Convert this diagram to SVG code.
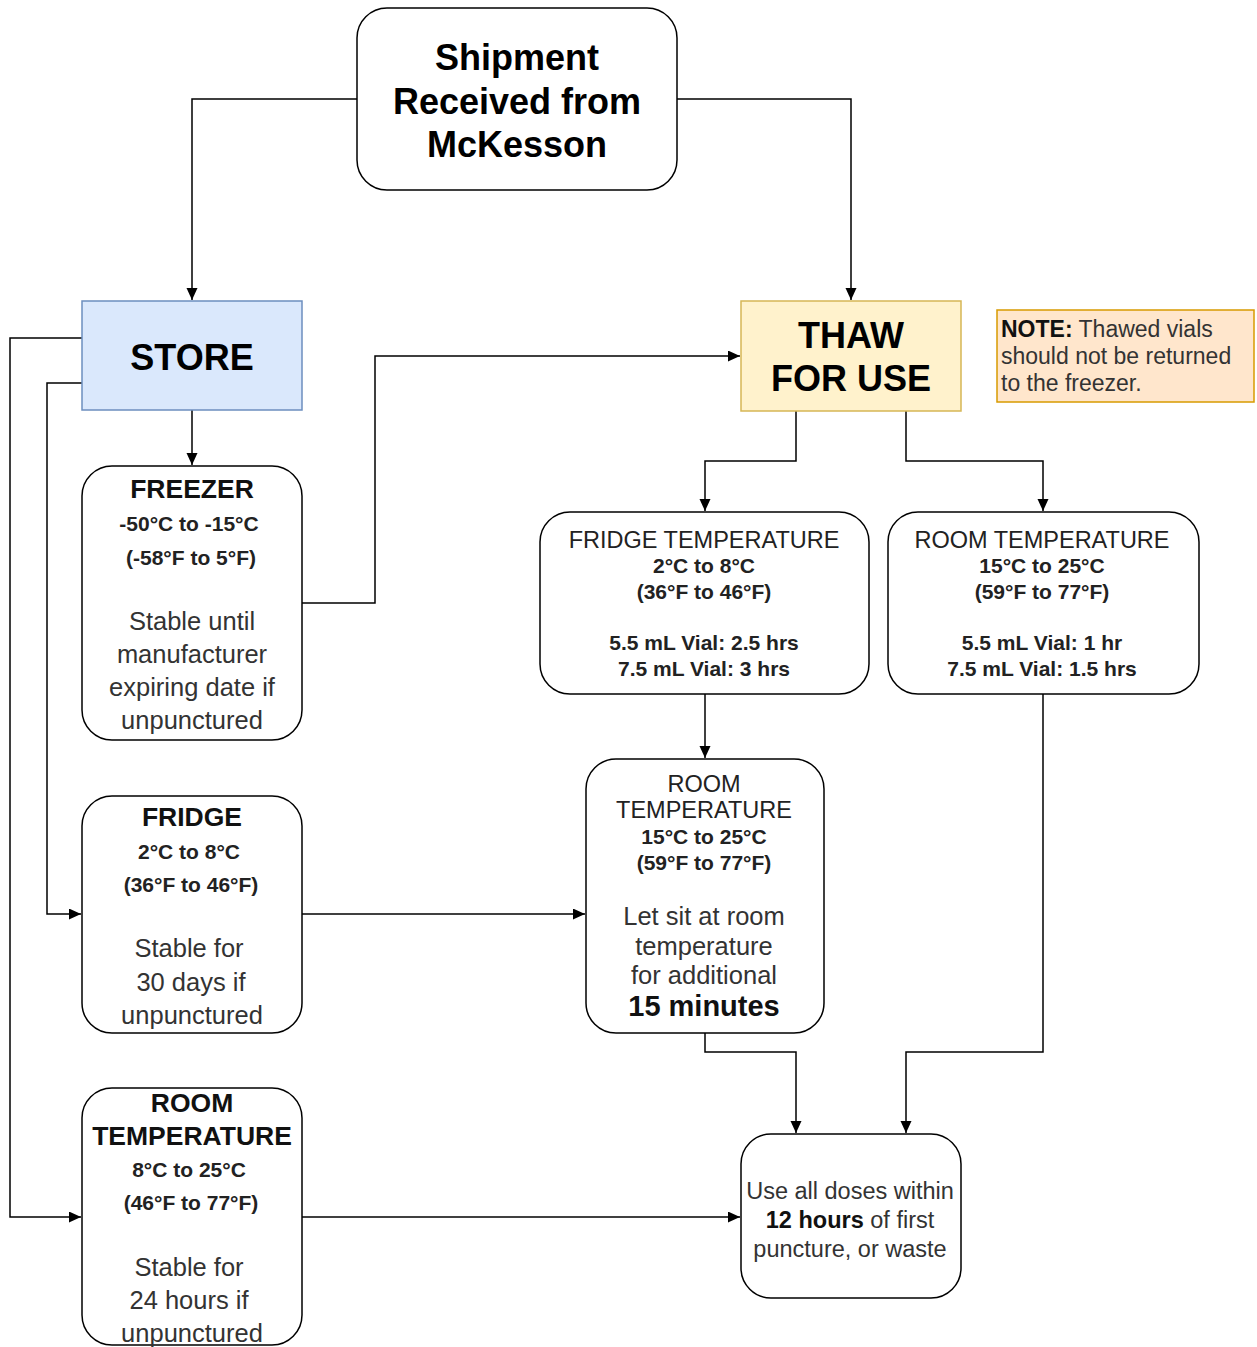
<svg xmlns="http://www.w3.org/2000/svg" width="1257" height="1347" viewBox="0 0 1257 1347">
<defs>
<marker id="arr" markerWidth="14" markerHeight="14" refX="12" refY="5.5" orient="auto" markerUnits="userSpaceOnUse">
<path d="M0,0 L12,5.5 L0,11 Z" fill="#000"/>
</marker>
<style>
text{font-family:"Liberation Sans",Arial,sans-serif;text-anchor:middle}
.box{fill:#fff;stroke:#000;stroke-width:1.5}
.t36{font-size:36px;font-weight:bold;fill:#000}
.hb{font-size:26.5px;font-weight:bold;fill:#111}
.hr{font-size:23.5px;fill:#222}
.tb{font-size:21px;font-weight:bold;fill:#222}
.b25{font-size:25.5px;fill:#333}
.b23{font-size:23.5px;fill:#333}
.edge{fill:none;stroke:#000;stroke-width:1.5;marker-end:url(#arr)}
</style>
</defs>
<rect width="1257" height="1347" fill="#fff"/>
<g id="connectors">
<path class="edge" d="M357,99 H192 V300"/>
<path class="edge" d="M677,99 H851 V300"/>
<path class="edge" d="M192,410 V465"/>
<path class="edge" d="M82,338 H10 V1217 H81"/>
<path class="edge" d="M82,383 H47 V914 H81"/>
<path class="edge" d="M302,603 H375 V356 H740"/>
<path class="edge" d="M796,411 V461 H705 V511"/>
<path class="edge" d="M906,411 V461 H1043 V511"/>
<path class="edge" d="M705,694 V758"/>
<path class="edge" d="M302,914 H585"/>
<path class="edge" d="M705,1033 V1052 H796 V1133"/>
<path class="edge" d="M1043,694 V1052 H906 V1133"/>
<path class="edge" d="M302,1217 H740"/>
</g>
<g id="shipment">
<rect class="box" x="357" y="8" width="320" height="182" rx="30"/>
<text class="t36" x="517" y="70">Shipment</text>
<text class="t36" x="517" y="114">Received from</text>
<text class="t36" x="517" y="157">McKesson</text>
</g>
<g id="store">
<rect x="82" y="301" width="220" height="109" fill="#dae8fc" stroke="#6c8ebf" stroke-width="1.5"/>
<text class="t36" x="192" y="370">STORE</text>
</g>
<g id="thaw">
<rect x="741" y="301" width="220" height="110" fill="#fff2cc" stroke="#d6b656" stroke-width="1.5"/>
<text class="t36" x="851" y="348">THAW</text>
<text class="t36" x="851" y="391">FOR USE</text>
</g>
<g id="note">
<rect x="997" y="310" width="257" height="92" fill="#ffe6cc" stroke="#d79b00" stroke-width="1.5"/>
<text x="1001" y="337" style="text-anchor:start;font-size:23px;fill:#333"><tspan font-weight="bold" fill="#111">NOTE:</tspan> Thawed vials</text>
<text x="1001" y="364" style="text-anchor:start;font-size:23px;fill:#333">should not be returned</text>
<text x="1001" y="391" style="text-anchor:start;font-size:23px;fill:#333">to the freezer.</text>
</g>
<g id="freezer">
<rect class="box" x="82" y="466" width="220" height="274" rx="30"/>
<text class="hb" x="192" y="498">FREEZER</text>
<text class="tb" x="189" y="531">-50°C to -15°C</text>
<text class="tb" x="191" y="565">(-58°F to 5°F)</text>
<text class="b25" x="192" y="630">Stable until</text>
<text class="b25" x="192" y="663">manufacturer</text>
<text class="b25" x="192" y="696">expiring date if</text>
<text class="b25" x="192" y="729">unpunctured</text>
</g>
<g id="fridge">
<rect class="box" x="82" y="796" width="220" height="237" rx="30"/>
<text class="hb" x="192" y="826">FRIDGE</text>
<text class="tb" x="189" y="859">2°C to 8°C</text>
<text class="tb" x="191" y="892">(36°F to 46°F)</text>
<text class="b25" x="189" y="957">Stable for</text>
<text class="b25" x="191" y="991">30 days if</text>
<text class="b25" x="192" y="1024">unpunctured</text>
</g>
<g id="room-store">
<rect class="box" x="82" y="1088" width="220" height="257" rx="30"/>
<text class="hb" x="192" y="1112">ROOM</text>
<text class="hb" x="192" y="1145">TEMPERATURE</text>
<text class="tb" x="189" y="1177">8°C to 25°C</text>
<text class="tb" x="191" y="1210">(46°F to 77°F)</text>
<text class="b25" x="189" y="1276">Stable for</text>
<text class="b25" x="189" y="1309">24 hours if</text>
<text class="b25" x="192" y="1342">unpunctured</text>
</g>
<g id="fridge-temp">
<rect class="box" x="540" y="512" width="329" height="182" rx="30"/>
<text class="hr" x="704" y="547.5">FRIDGE TEMPERATURE</text>
<text class="tb" x="704" y="573">2°C to 8°C</text>
<text class="tb" x="704" y="599">(36°F to 46°F)</text>
<text class="tb" x="704" y="650">5.5 mL Vial: 2.5 hrs</text>
<text class="tb" x="704" y="676">7.5 mL Vial: 3 hrs</text>
</g>
<g id="room-temp">
<rect class="box" x="888" y="512" width="311" height="182" rx="30"/>
<text class="hr" x="1042" y="547.5">ROOM TEMPERATURE</text>
<text class="tb" x="1042" y="573">15°C to 25°C</text>
<text class="tb" x="1042" y="599">(59°F to 77°F)</text>
<text class="tb" x="1042" y="650">5.5 mL Vial: 1 hr</text>
<text class="tb" x="1042" y="676">7.5 mL Vial: 1.5 hrs</text>
</g>
<g id="room-temp-mid">
<rect class="box" x="586" y="759" width="238" height="274" rx="30"/>
<text class="hr" x="704" y="791.5">ROOM</text>
<text class="hr" x="704" y="817.5">TEMPERATURE</text>
<text class="tb" x="704" y="844">15°C to 25°C</text>
<text class="tb" x="704" y="870">(59°F to 77°F)</text>
<text class="b25" x="704" y="925">Let sit at room</text>
<text class="b25" x="704" y="955">temperature</text>
<text class="b25" x="704" y="984">for additional</text>
<text x="704" y="1016" style="font-size:29px;font-weight:bold;fill:#111">15 minutes</text>
</g>
<g id="use-all">
<rect class="box" x="741" y="1134" width="220" height="164" rx="30"/>
<text class="b23" x="850" y="1198.5">Use all doses within</text>
<text class="b23" x="850" y="1227.5"><tspan font-weight="bold" fill="#111">12 hours</tspan> of first</text>
<text class="b23" x="850" y="1256.5">puncture, or waste</text>
</g>
</svg>
